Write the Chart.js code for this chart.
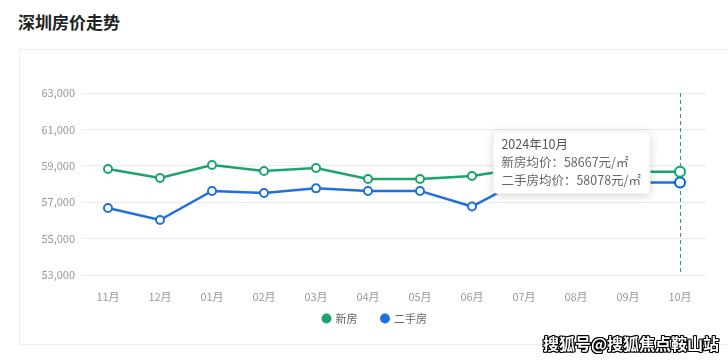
<!DOCTYPE html>
<html>
<head>
<meta charset="utf-8">
<script src="https://cdn.jsdelivr.net/npm/chart.js@4/dist/chart.umd.min.js"></script>
<style>
  html, body { margin: 0; padding: 0; width: 728px; height: 360px; overflow: hidden; background: #fff; }
  body { position: relative; font-family: "Noto Sans CJK SC", "Noto Sans", sans-serif; }
  #title { position: absolute; left: 18px; top: 9px; font-size: 17px; font-weight: bold; color: #222; }
  #card { position: absolute; left: 19px; top: 49px; width: 760px; height: 296px; border: 1px solid #ececec; box-sizing: border-box; }
  #wrap { position: absolute; left: 0; top: 0; width: 728px; height: 360px; }
  #wm { position: absolute; left: 543px; top: 331px; font-size: 16px; font-weight: bold; color: #fff; white-space: nowrap;
        text-shadow: -1px -1px 0 #000, 1px -1px 0 #000, -1px 1px 0 #000, 1px 1px 0 #000, 0 1px 0 #000, 0 -1px 0 #000, 1px 0 0 #000, -1px 0 0 #000; }
</style>
</head>
<body>
<div id="title">深圳房价走势</div>
<div id="card"></div>
<div id="wrap"><canvas id="c" width="728" height="360"></canvas></div>
<div id="wm">搜狐号@搜狐焦点鞍山站</div>
<script>
const categories = ['11月','12月','01月','02月','03月','04月','05月','06月','07月','08月','09月','10月'];
const tooltipTitles = ['2023年11月','2023年12月','2024年01月','2024年02月','2024年03月','2024年04月','2024年05月','2024年06月','2024年07月','2024年08月','2024年09月','2024年10月'];
const newHouse = [58820, 58330, 59040, 58710, 58880, 58270, 58270, 58440, 58880, 58750, 58667, 58667];
const secondHand = [56680, 56020, 57620, 57510, 57760, 57620, 57620, 56760, 58280, 58150, 58078, 58078];
const seriesNames = ['新房', '二手房'];
const yTicks = [53000, 55000, 57000, 59000, 61000, 63000];
const activeIndex = 11;

const GREEN = '#1ba56d';
const BLUE = '#1f6fdd';
const FONT = '"Noto Sans CJK SC", "Noto Sans", sans-serif';

Chart.Tooltip.positioners.fixedLeft = function(items) {
  if (!items.length) return false;
  let x = 0, y = 0;
  items.forEach(i => { x += i.element.x; y += i.element.y; });
  x /= items.length; y /= items.length;
  return { x: x, y: y - 15, xAlign: 'right', yAlign: 'center' };
};

const guidePlugin = {
  id: 'guide',
  afterLayout(chart) {
    const lg = chart.legend;
    if (!lg) return;
    const dx = 375 - (lg.left + lg.right) / 2;
    const dy = -14;
    lg.left += dx; lg.right += dx; lg.top += dy; lg.bottom += dy;
    if (lg.legendHitBoxes) lg.legendHitBoxes.forEach(b => { b.left += dx; b.top += dy; });
  },
  beforeDatasetsDraw(chart) {
    const act = chart.tooltip && chart.tooltip.getActiveElements();
    if (!act || !act.length) return;
    const x = act[0].element.x;
    const { ctx, chartArea } = chart;
    ctx.save();
    ctx.strokeStyle = '#2e9a78';
    ctx.lineWidth = 1;
    ctx.setLineDash([4, 3]);
    ctx.beginPath();
    ctx.moveTo(Math.round(x) + 0.5, chartArea.top);
    ctx.lineTo(Math.round(x) + 0.5, chartArea.bottom);
    ctx.stroke();
    ctx.restore();
  },
  beforeTooltipDraw(chart, args) {
    const t = args.tooltip;
    if (!t.opacity) return;
    const ctx = chart.ctx;
    ctx.save();
    ctx.shadowColor = 'rgba(0,0,0,0.18)';
    ctx.shadowBlur = 10;
    ctx.shadowOffsetY = 2;
    ctx.fillStyle = '#fff';
    ctx.beginPath();
    ctx.roundRect(t.x, t.y, t.width, t.height, 4);
    ctx.fill();
    ctx.restore();
  }
};

const chart = new Chart(document.getElementById('c'), {
  type: 'line',
  data: {
    labels: categories,
    datasets: [
      { label: seriesNames[0], data: newHouse, borderColor: GREEN, backgroundColor: GREEN,
        pointBackgroundColor: '#fff', pointBorderColor: GREEN, pointRadius: 4, pointBorderWidth: 2,
        pointHoverRadius: 5, pointHoverBorderWidth: 2, pointHoverBackgroundColor: '#fff', borderWidth: 2.5, tension: 0 },
      { label: seriesNames[1], data: secondHand, borderColor: BLUE, backgroundColor: BLUE,
        pointBackgroundColor: '#fff', pointBorderColor: BLUE, pointRadius: 4, pointBorderWidth: 2,
        pointHoverRadius: 5, pointHoverBorderWidth: 2, pointHoverBackgroundColor: '#fff', borderWidth: 2.5, tension: 0 }
    ]
  },
  options: {
    responsive: false,
    animation: false,
    events: [],
    layout: { padding: { left: 0, right: 22, top: 93, bottom: 12 } },
    interaction: { mode: 'index', intersect: false },
    scales: {
      x: {
        offset: true,
        grid: { display: false, drawTicks: false },
        border: { display: false },
        ticks: { color: '#999', font: { family: FONT, size: 11 }, padding: 15, maxRotation: 0 },
        afterFit(s) { s.height = 28; }
      },
      y: {
        min: yTicks[0], max: yTicks[yTicks.length - 1],
        afterBuildTicks(s) { s.ticks = yTicks.map(v => ({ value: v })); },
        grid: { color: '#ebebeb', drawTicks: false, lineWidth: 1 },
        border: { display: false },
        ticks: { color: '#999', font: { family: FONT, size: 11 }, padding: 7,
                 callback: v => v.toLocaleString('en-US') },
        afterFit(s) { s.width = 82; }
      }
    },
    plugins: {
      legend: {
        position: 'bottom',
        labels: {
          usePointStyle: true, pointStyle: 'circle', boxWidth: 7, boxHeight: 7, padding: 24,
          color: '#666', font: { family: FONT, size: 11 },
          generateLabels(chart) {
            return Chart.defaults.plugins.legend.labels.generateLabels(chart).map(it => {
              const c = chart.data.datasets[it.datasetIndex].borderColor;
              return Object.assign(it, { fillStyle: c, strokeStyle: c, lineWidth: 0, pointStyle: 'circle' });
            });
          }
        }
      },
      tooltip: {
        position: 'fixedLeft',
        backgroundColor: 'rgba(255,255,255,1)',
        borderColor: '#f0f0f0', borderWidth: 1,
        titleColor: '#555', bodyColor: '#666',
        titleFont: { family: FONT, size: 12.5, weight: 'normal', lineHeight: 1.45 },
        bodyFont: { family: FONT, size: 12.5, lineHeight: 1.45 },
        titleMarginBottom: 0, bodySpacing: 0,
        padding: { left: 8, right: 9, top: 4, bottom: 4 },
        caretSize: 0, caretPadding: 30, cornerRadius: 4,
        displayColors: false,
        callbacks: {
          title: items => tooltipTitles[items[0].dataIndex],
          label: ctx => ctx.dataset.label + '均价：' + ctx.parsed.y + '元/㎡'
        }
      }
    }
  },
  plugins: [guidePlugin]
});

const act = [{ datasetIndex: 0, index: activeIndex }, { datasetIndex: 1, index: activeIndex }];
chart.setActiveElements(act);
chart.tooltip.setActiveElements(act, { x: 680, y: 170 });
chart.update();
</script>
</body>
</html>
